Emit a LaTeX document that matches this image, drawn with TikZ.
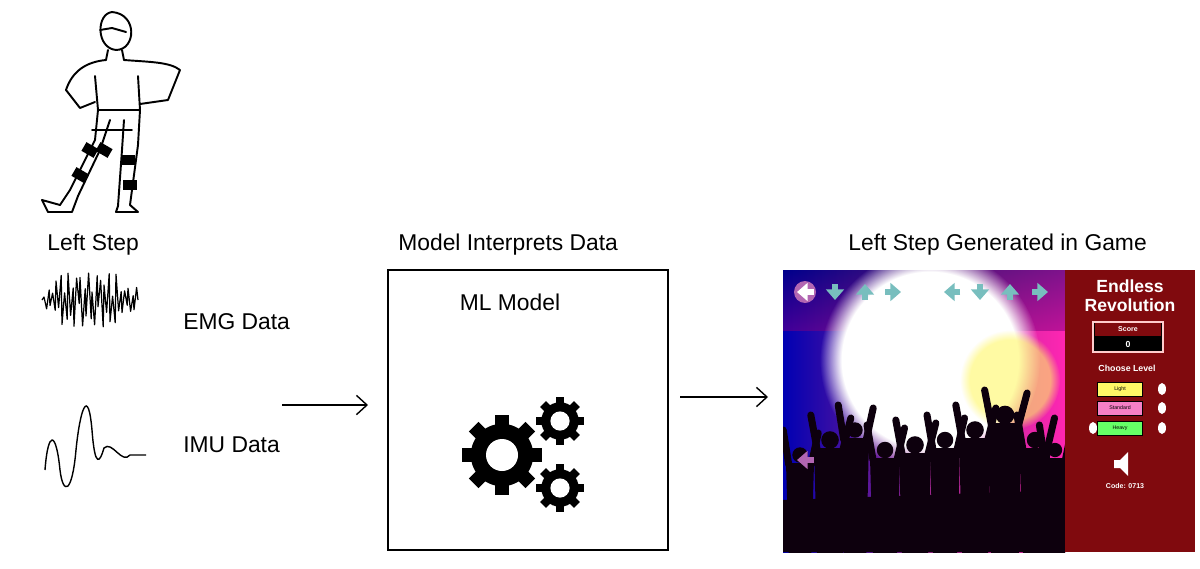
\documentclass[tikz,border=0pt]{standalone}
\usepackage{fontspec}
\setmainfont{Liberation Sans}
\usetikzlibrary{arrows.meta,fadings}
\definecolor{panelred}{RGB}{128,10,14}
\definecolor{teal}{RGB}{120,190,190}
\begin{document}
\begin{tikzpicture}[x=0.02cm,y=-0.02cm,
  lbl/.style={font=\fontsize{13}{15}\selectfont,anchor=west,inner sep=0},
  conn/.style={-{Straight Barb[length=6pt,width=11pt]},line width=0.8pt},
  sk/.style={line width=1.1pt,line join=round,line cap=round},
  btn/.style={draw=black,line width=0.3pt,minimum width=0.9cm,minimum height=0.28cm,inner sep=0,font=\fontsize{3}{3}\selectfont},
  gear/.style={fill=black,even odd rule}]
\useasboundingbox (0,0) rectangle (1200,568);
% --- sketch person
\draw[sk] (112,12) .. controls (96,14) and (96,48) .. (116,50) .. controls (136,50) and (138,14) .. (112,12);
\draw[sk] (100,30) -- (112,28) -- (126,32);
\draw[sk] (108,50) -- (106,60) (122,50) -- (124,60);
\draw[sk] (106,60) .. controls (85,62) and (72,72) .. (66,90) -- (80,108) -- (95,102);
\draw[sk] (124,60) .. controls (150,62) and (170,62) .. (180,70) -- (168,100) -- (140,104);
\draw[sk] (95,76) -- (98,110) -- (140,110) -- (138,76);
\draw[sk] (98,110) -- (95,140) -- (70,190) -- (60,205) (140,110) -- (138,145) -- (130,205);
\draw[sk] (110,120) -- (100,150) -- (78,196) (124,120) -- (122,150) -- (118,206);
\draw[sk] (60,205) -- (42,200) -- (48,212) -- (72,212) -- (78,196);
\draw[sk] (118,206) -- (116,212) -- (138,212) -- (130,205);
\foreach \p/\a in {{(90,150)}/-30,{(104,150)}/-30,{(128,160)}/0,{(80,175)}/-30,{(130,185)}/0}
  \fill[rotate around={\a:\p}] \p ++(-7,-5) rectangle ++(14,10);
\draw[sk] (92,130)--(132,130);
% --- texts
\node[lbl] (ls) at (47,245) {Left Step};
\node[lbl] (emg) at (183,322) {EMG Data};
\node[lbl] (imu) at (183,445) {IMU Data};
\node[lbl] (mi) at (398,245) {Model Interprets Data};
\node[lbl] (lg) at (848,245) {Left Step Generated in Game};
% EMG wave
\draw[line width=0.7pt,line join=round] (42,300) \foreach \i in {0,...,46} { -- ({44+\i*2+mod(\i*7,3)*0.6},{300+(mod(\i,2)==0?-1:1)*(3+24*abs(sin(\i*53))*(\i>5?1:0.3)*(\i<38?1:0.4))}) } -- (138,300);
% IMU wave
\draw[line width=0.8pt] (45,470) .. controls (48,430) and (56,430) .. (60,470) .. controls (63,495) and (72,495) .. (76,450) .. controls (80,410) and (88,385) .. (92,430) .. controls (95,470) and (100,462) .. (104,448) .. controls (112,440) and (122,465) .. (130,455) -- (146,455);
% --- model box
\node[draw,line width=0.9pt,minimum width=5.6cm,minimum height=5.6cm,inner sep=0] (box) at (528,410) {};
\node[font=\fontsize{13}{15}\selectfont] (ml) at (510,302) {ML Model};
\foreach \c/\r/\n in {{(502,455)}/40/8,{(560,421)}/24/8,{(560,488)}/24/8}{
  \fill[gear] \c circle ({\r*0.78}) \c circle ({\r*0.4});
  \foreach \k in {1,...,\n}
    \fill[shift={\c},rotate=\k*360/\n] ({-\r*0.17},0) rectangle ({\r*0.17},{\r});
  \fill[white] \c circle ({\r*0.4});
}
% --- arrows
\coordinate (a1s) at (282,405); \coordinate (a1e) at (368,405);
\coordinate (a2s) at (680,397); \coordinate (a2e) at (768,397);
\draw[conn] (a1s) -- (a1e);
\draw[conn] (a2s) -- (a2e);
% --- game image
\begin{scope}
\clip (783,270) rectangle (1065,552);
\shade[left color=blue!70!black, right color=magenta!70!orange, middle color=violet!80!pink] (783,270) rectangle (1065,552);
\shade[top color=black!60!blue, bottom color=violet, opacity=0.5] (783,270) rectangle (1065,330);
\fill[white, path fading=circle with fuzzy edge 20 percent] (930,360) circle (110);
\fill[yellow!60!white, path fading=circle with fuzzy edge 20 percent, opacity=0.6] (1010,380) circle (50);
% crowd
\fill[black!90!violet] (783,552) -- (783,500) -- (1065,490) -- (1065,552) -- cycle;
\foreach \x/\h/\w in {800/455/14,830/440/16,855/430/14,885/450/15,915/445/16,945/440/15,975/430/16,1005/415/17,1035/440/15,1055/450/13}{
  \fill[black!90!violet] (\x,\h) circle ({\w*0.55});
  \fill[black!90!violet] (\x-\w,\h+8) -- (\x+\w,\h+8) -- (\x+\w*0.8,560) -- (\x-\w*0.8,560) -- cycle;
  \draw[black!90!violet,line width=4pt,line cap=round] (\x-\w*0.8,\h+10) -- (\x-\w*1.2,\h-25);
  \draw[black!90!violet,line width=4pt,line cap=round] (\x+\w*0.8,\h+10) -- (\x+\w*1.3,\h-22);
}
\end{scope}
\fill[violet!60!white] (805,292) circle (11);
\foreach \x/\a in {835/-90,865/90,893/0,980/-90,1010/90,1040/0} \draw[teal,line width=3pt,-{Triangle[length=6pt,width=10pt]},rotate around={\a:(\x,292)}] (\x-8,292) -- (\x+8,292);
\draw[teal,line width=3pt,-{Triangle[length=6pt,width=10pt]}] (960,292) -- (944,292);
\draw[white,line width=3pt,-{Triangle[length=6pt,width=10pt]}] (814,292) -- (797,292);
\draw[violet!60!white,line width=3pt,-{Triangle[length=6pt,width=10pt]}] (814,460) -- (797,460);
% red panel
\fill[panelred] (1065,270) rectangle (1195,552);
\node[white,font=\bfseries\fontsize{10}{11}\selectfont,align=center] (title) at (1130,296) {Endless\\Revolution};
\node[draw=white!80!red,line width=0.8pt,fill=black,minimum width=1.4cm,minimum height=0.6cm] (score) at (1128,337) {};
\fill[panelred] (1095,323) rectangle (1161,336);
\node[white,font=\bfseries\fontsize{4}{4}\selectfont] (st) at (1128,329) {Score};
\node[white,font=\bfseries\fontsize{5}{5}\selectfont] (sz) at (1128,344) {0};
\node[white,font=\bfseries\fontsize{5}{5}\selectfont] (cl) at (1127,368) {Choose Level};
\node[btn,fill=yellow!60] (b1) at (1120,389) {Light};
\node[btn,fill=magenta!50] (b2) at (1120,408) {Standard};
\node[btn,fill=green!60] (b3) at (1120,428) {Heavy};
\foreach \p in {(1162,389),(1162,408),(1162,428),(1093,428)} \fill[white] \p ellipse (4 and 6);
\fill[white] (1114,460) rectangle (1120,468) -- (1128,476) -- (1128,452) -- (1120,460) -- cycle;
\node[white,font=\bfseries\fontsize{4}{4}\selectfont] (code) at (1125,486) {Code: 0713};
\end{tikzpicture}
\end{document}
